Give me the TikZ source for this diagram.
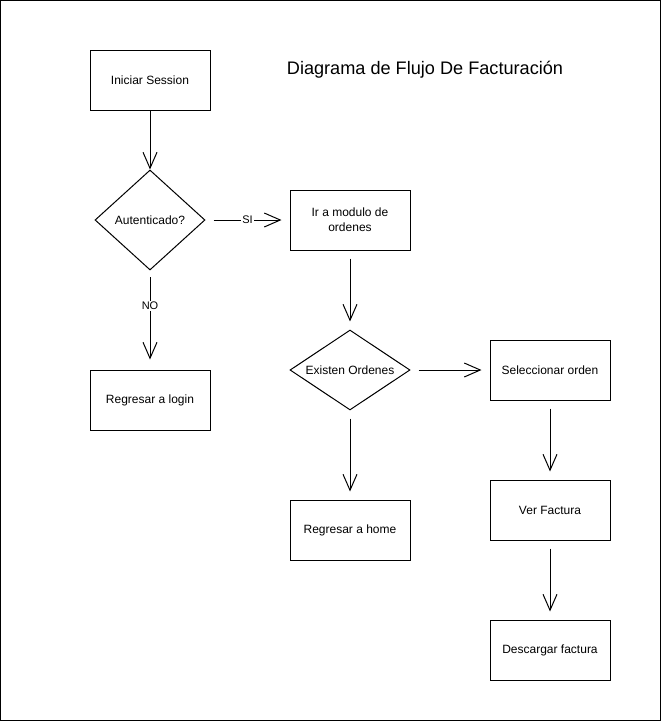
\documentclass[tikz,border=0pt]{standalone}
\usepackage{fontspec}
\setmainfont{Liberation Sans}
\usetikzlibrary{arrows.meta,shapes.geometric}

\begin{document}
\begin{tikzpicture}[
    x=0.75pt, y=-0.75pt,
    box/.style={rectangle, draw, line width=0.75pt, minimum width=90pt, minimum height=45pt, inner sep=0pt, align=center, font=\fontsize{9}{11}\selectfont},
    decision/.style={diamond, draw, line width=0.75pt, inner sep=0pt, align=center, font=\fontsize{9}{11}\selectfont},
    flow_arrow/.style={-{Straight Barb[length=12pt, width=10.5pt]}, line width=0.75pt, shorten <=6pt, shorten >=6pt},
    label/.style={fill=white, inner sep=1pt, font=\fontsize{8.25}{10}\selectfont}
]
    % Frame
    \useasboundingbox (0,0) rectangle (661,721);
    \draw[line width=0.75pt] (0.5,0.5) rectangle (660.5,720.5);
    % Title
    \node[font=\fontsize{13.6}{16}\selectfont] (title) at (425,70) {Diagrama de Flujo De Facturación};
    % Login
    \node[box] (inicio) at (150,80) {Iniciar Session};
    \node[decision, minimum width=82.5pt, minimum height=75pt] (auth) at (150,220) {Autenticado?};
    \node[box] (login) at (150,400) {Regresar a login};
    % Orders
    \node[box] (modulo) at (350,220) {Ir a modulo de\\ordenes};
    \node[decision, aspect=1.6, minimum width=90pt, minimum height=60pt] (existen) at (350,370) {Existen Ordenes};
    \node[box] (home) at (350,530) {Regresar a home};
    % Invoice
    \node[box] (orden) at (550,370) {Seleccionar orden};
    \node[box] (factura) at (550,510) {Ver Factura};
    \node[box] (descarga) at (550,650) {Descargar factura};
    % Arrows
    \draw[flow_arrow, shorten <=0pt, shorten >=0pt] (inicio) -- (auth);
    \draw[flow_arrow] (auth) -- node[label] {SI} (modulo);
    \draw[flow_arrow, shorten <=5pt, shorten >=7.5pt] (auth) -- node[label, pos=0.36] {NO} (login);
    \draw[flow_arrow] (modulo) -- (existen);
    \draw[flow_arrow] (existen) -- (orden);
    \draw[flow_arrow] (existen) -- (home);
    \draw[flow_arrow] (orden) -- (factura);
    \draw[flow_arrow] (factura) -- (descarga);
\end{tikzpicture}
\end{document}
